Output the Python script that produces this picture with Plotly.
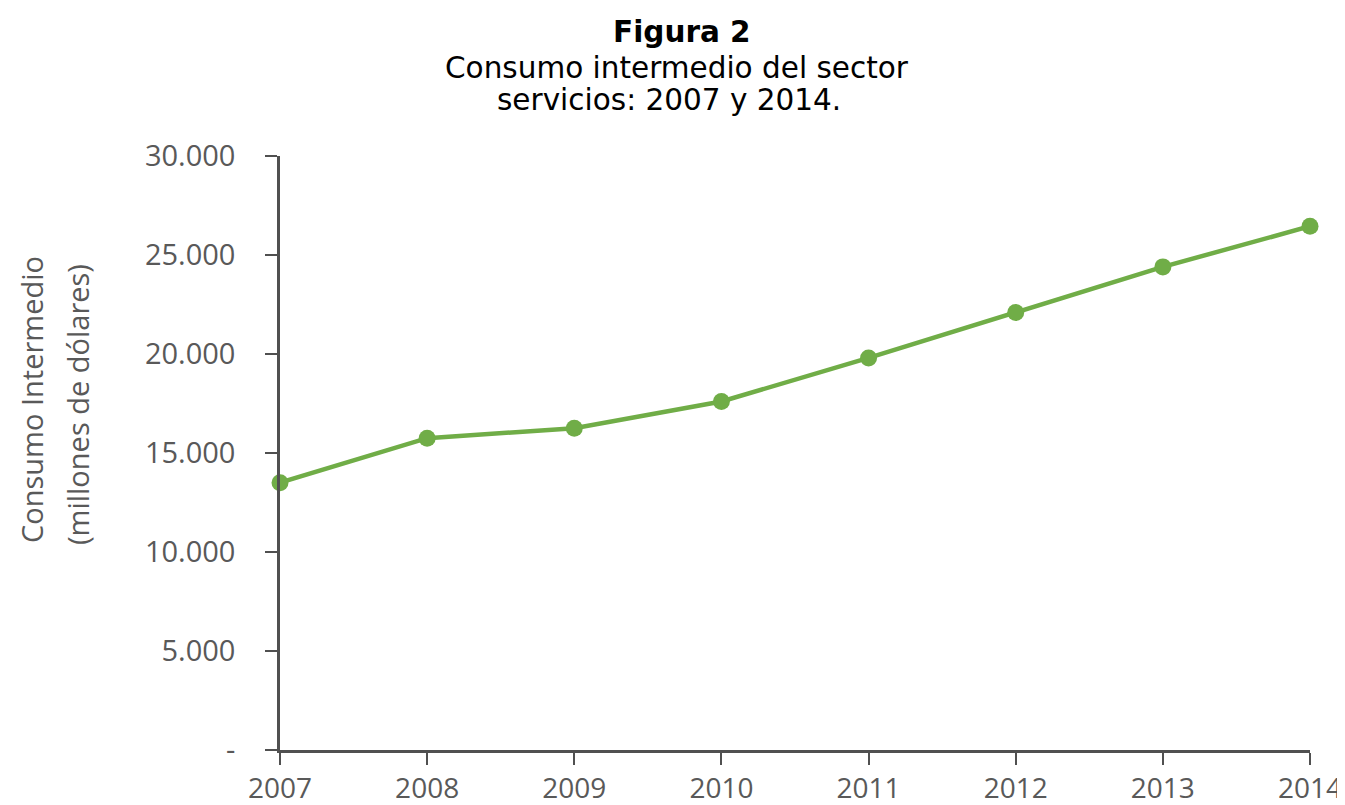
import plotly.graph_objects as go

years = [2007, 2008, 2009, 2010, 2011, 2012, 2013, 2014]
consumo = [13500, 15750, 16250, 17600, 19800, 22100, 24400, 26450]
ytick_vals = [0, 5000, 10000, 15000, 20000, 25000, 30000]
ytick_text = ["-", "5.000", "10.000", "15.000", "20.000", "25.000", "30.000"]
title_lines = ["<b>Figura 2</b>", "Consumo intermedio del sector", "servicios: 2007 y 2014."]
ytitle_lines = ["Consumo Intermedio", "(millones de dólares)"]

# page body has an 8px margin; compensate so the plot area lands at x 280-1310, y 156-750
OFF = 8
W, H = 1345 - OFF, 805 - OFF
L, T = 280 - OFF, 156 - OFF
R, B = W - (1310 - OFF), H - (750 - OFF)
PW, PH = W - L - R, H - T - B

def px(xp):
    return (xp - OFF - L) / PW

def py(yp):
    return (H - B - (yp - OFF)) / PH

fig = go.Figure()
fig.add_trace(go.Scatter(
    x=years, y=consumo, mode="lines+markers",
    line=dict(color="#70AD47", width=4.5),
    marker=dict(color="#70AD47", size=17),
    cliponaxis=False, showlegend=False,
))

fig.update_layout(
    width=W, height=H,
    paper_bgcolor="white", plot_bgcolor="white",
    margin=dict(l=L, r=R, t=T, b=B),
    xaxis=dict(range=[2007, 2014], tickmode="array", tickvals=years,
               ticktext=[str(y) for y in years], automargin=False,
               showline=True, linecolor="#505050", linewidth=2.5,
               ticks="outside", ticklen=12, tickwidth=2, tickcolor="#505050",
               showgrid=False, zeroline=False,
               tickfont=dict(family="Open Sans", size=28, color="#595959"),
               ticklabelstandoff=0),
    yaxis=dict(range=[0, 30000], tickmode="array", tickvals=ytick_vals,
               ticktext=ytick_text, automargin=False,
               showline=True, linecolor="#505050", linewidth=2.5,
               ticks="outside", ticklen=12, tickwidth=2, tickcolor="#505050",
               showgrid=False, zeroline=False,
               tickfont=dict(family="Open Sans", size=29, color="#595959"),
               ticklabelstandoff=24),
    font=dict(family="DejaVu Sans"),
)

for txt, xc, yc in [(title_lines[0], 682, 32), (title_lines[1], 677, 68), (title_lines[2], 669, 100)]:
    fig.add_annotation(text=txt, xref="paper", yref="paper", x=px(xc), y=py(yc),
                       xanchor="center", yanchor="middle", showarrow=False,
                       font=dict(family="DejaVu Sans", size=29.5, color="black"))

for txt, xc, yc in [(ytitle_lines[0], 31, 400), (ytitle_lines[1], 77, 405)]:
    fig.add_annotation(text=txt, xref="paper", yref="paper", x=px(xc), y=py(yc),
                       xanchor="center", yanchor="middle", showarrow=False, textangle=-90,
                       font=dict(family="Open Sans", size=29, color="#595959"))

fig.write_html("out.html")
